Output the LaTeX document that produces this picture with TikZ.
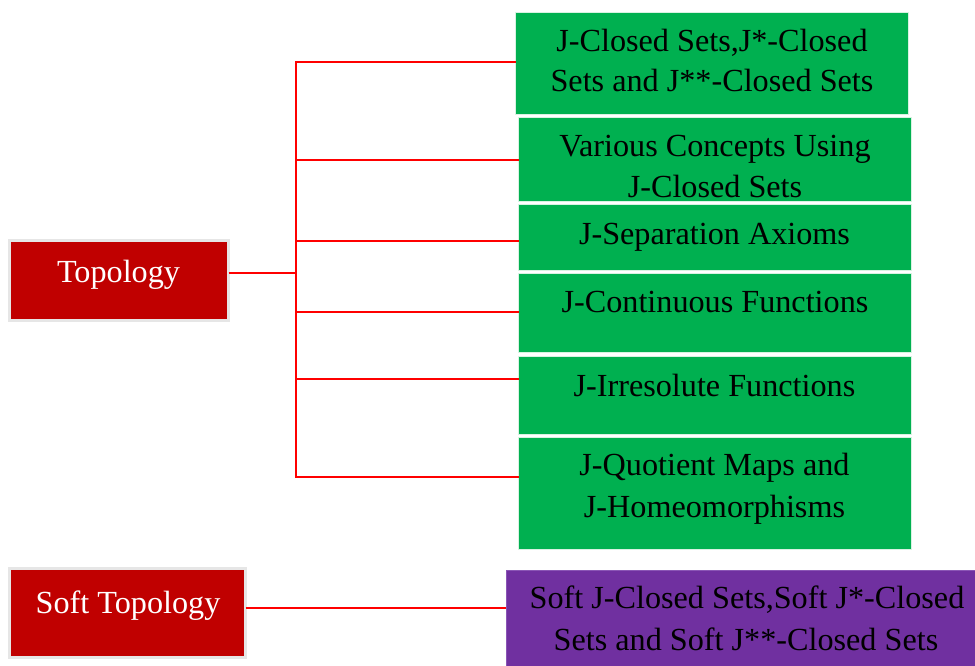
\documentclass[tikz,border=0pt]{standalone}
\usepackage{fontspec}
\setmainfont{Liberation Serif}
\definecolor{boxred}{HTML}{C00000}
\definecolor{boxgreen}{HTML}{00B050}
\definecolor{boxpurple}{HTML}{7030A0}
\definecolor{edgegray}{HTML}{E6E6E6}
\definecolor{greenedge}{HTML}{D8F2E2}
\definecolor{purpleedge}{HTML}{8A55B5}
\definecolor{linkred}{HTML}{FF0000}
\begin{document}
\begin{tikzpicture}[x=1pt,y=-1pt,
  basebox/.style={rectangle,inner sep=0pt,outer sep=0pt},
  rootbox/.style={basebox,fill=boxred,draw=edgegray,line width=3pt},
  topicbox/.style={basebox,fill=boxgreen,draw=greenedge,line width=1pt},
  softbox/.style={basebox,fill=boxpurple,draw=purpleedge,line width=1pt},
  caption/.style={anchor=base,inner sep=0pt,font=\fontsize{32.2}{38}\selectfont},
  rootcaption/.style={caption,text=white},
  link/.style={draw=linkred,line width=1.5pt}]
\useasboundingbox (0,0) rectangle (975,666);
\clip (0,0) rectangle (975,666);

% root boxes
\node[rootbox,minimum width=219pt,minimum height=80pt] (topo) at (119,280.5) {};
\node[rootcaption] (topoT) at (118.5,282) {Topology};
\node[rootbox,minimum width=236pt,minimum height=89pt] (soft) at (127.5,613) {};
\node[rootcaption] (softT) at (128,613) {Soft Topology};

% topology branches
\node[topicbox,minimum width=393pt,minimum height=102.5pt] (g1) at (712,63.75) {};
\node[caption] (g1a) at (712,52) {J-Closed Sets,J*-Closed};
\node[caption] (g1b) at (712,92) {Sets and J**-Closed Sets};

\node[topicbox,minimum width=393pt,minimum height=83pt] (g2) at (715,159.5) {};
\node[caption] (g2a) at (715,157) {Various Concepts Using};
\node[caption] (g2b) at (715,197) {J-Closed Sets};

\node[topicbox,minimum width=393pt,minimum height=66pt] (g3) at (715,237) {};
\node[caption] (g3a) at (714.5,244) {J-Separation Axioms};

\node[topicbox,minimum width=393pt,minimum height=79pt] (g4) at (715,312.5) {};
\node[caption] (g4a) at (715,312) {J-Continuous Functions};

\node[topicbox,minimum width=393pt,minimum height=78pt] (g5) at (715,395) {};
\node[caption] (g5a) at (714.5,396) {J-Irresolute Functions};

\node[topicbox,minimum width=393pt,minimum height=112pt] (g6) at (715,493) {};
\node[caption] (g6a) at (714.5,475) {J-Quotient Maps and};
\node[caption] (g6b) at (714.5,517) {J-Homeomorphisms};

% soft topology branch
\node[softbox,minimum width=470pt,minimum height=97pt] (p1) at (741,618.5) {};
\node[caption] (p1a) at (747,608) {Soft J-Closed Sets,Soft J*-Closed};
\node[caption] (p1b) at (746,650) {Sets and Soft J**-Closed Sets};

% connectors
\coordinate (hub) at (296,273);
\coordinate (busTop) at (296,61.5);
\coordinate (busBot) at (296,478);
\draw[link] (topo.east |- hub) -- (hub);
\draw[link] (busTop) -- (busBot);
\draw[link] (busTop |- 0,62) -- (g1.west |- 0,62);
\draw[link] (busTop |- 0,160) -- (g2.west |- 0,160);
\draw[link] (busTop |- 0,241) -- (g3.west |- 0,241);
\draw[link] (busTop |- 0,312) -- (g4.west |- 0,312);
\draw[link] (busTop |- 0,379) -- (g5.west |- 0,379);
\draw[link] (busTop |- 0,477) -- (g6.west |- 0,477);
\draw[link] (soft.east |- 0,608) -- (p1.west |- 0,608);
\end{tikzpicture}
\end{document}
